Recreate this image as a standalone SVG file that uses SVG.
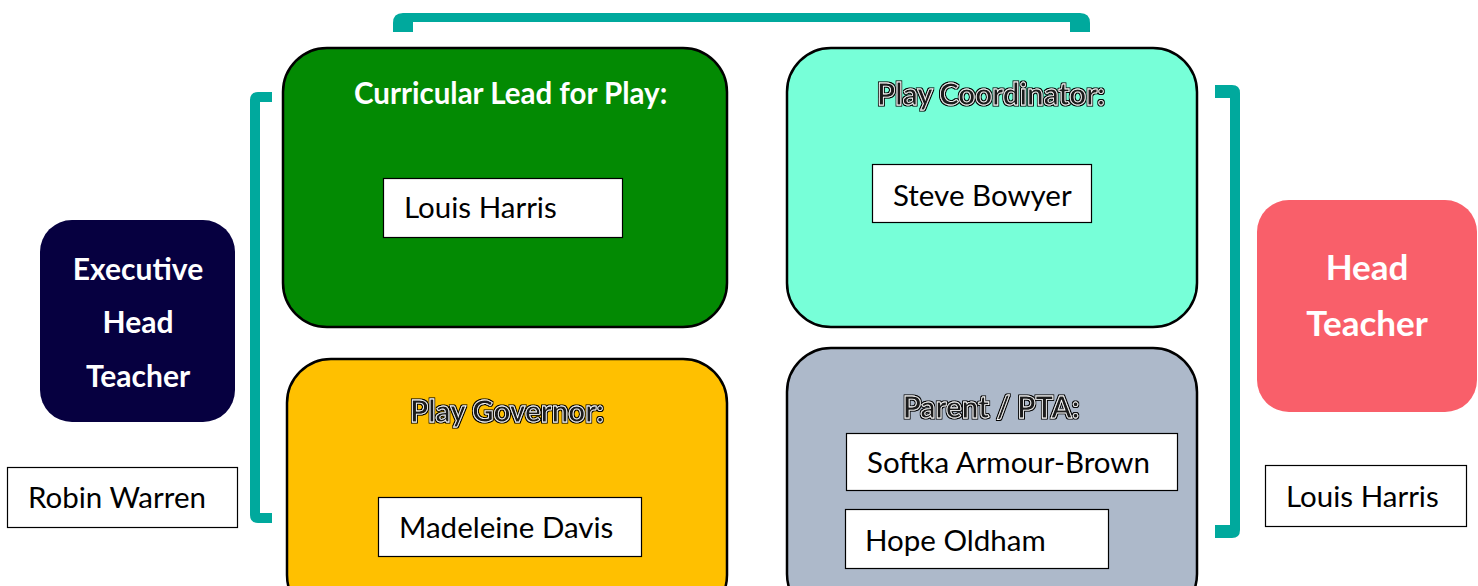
<svg xmlns="http://www.w3.org/2000/svg" width="1478" height="586" viewBox="0 0 1478 586">
<style>
.card{stroke:#000;stroke-width:2.5}
.namebox{fill:#fff;stroke:#000;stroke-width:1.2}
.name{font-family:Lato,"Open Sans",sans-serif;font-size:29.5px;fill:#000}
.hdr{font-family:Lato,"Open Sans",sans-serif;font-size:29.5px;font-weight:bold}
.ol{fill:#1a1a1a;stroke:#fff;stroke-width:0.8;filter:url(#halo)}
.role{font-family:Lato,"Open Sans",sans-serif;font-weight:bold;fill:#fff;text-anchor:middle}
.br{fill:#00A99D}
</style>
<defs>
<filter id="halo" x="-5%" y="-20%" width="110%" height="140%">
<feMorphology in="SourceAlpha" operator="dilate" radius="0.9" result="d"/>
<feFlood flood-color="#000"/>
<feComposite in2="d" operator="in" result="o"/>
<feMerge><feMergeNode in="o"/><feMergeNode in="SourceGraphic"/></feMerge>
</filter>
</defs>
<rect width="1478" height="586" fill="#fff"/>
<g id="connectors">
<path class="br" d="M393 32 V23 Q393 13 403 13 H1080 Q1090 13 1090 23 V32 H1070 V22 H413 V32 Z"/>
<path class="br" d="M272 92 H258 Q250 92 250 100 V515 Q250 523 258 523 H272 V513 H260 V102 H272 Z"/>
<path class="br" d="M1215 85 H1232 Q1240 85 1240 93 V530 Q1240 538 1232 538 H1215 V525 H1230 V98 H1215 Z"/>
</g>
<g id="exec-head">
<rect x="40" y="220" width="195" height="202" rx="32" fill="#060040"/>
<text class="role" font-size="30" x="138" y="280">Executive</text>
<text class="role" font-size="30" x="138" y="333">Head</text>
<text class="role" font-size="30" x="138" y="387">Teacher</text>
</g>
<g id="exec-name">
<rect class="namebox" x="7.5" y="467.5" width="230" height="60"/>
<text class="name" x="28" y="508">Robin Warren</text>
</g>
<g id="head-teacher">
<rect x="1257" y="200" width="220" height="212" rx="32" fill="#F95F6A"/>
<text class="role" font-size="35" x="1367" y="280">Head</text>
<text class="role" font-size="35" x="1367" y="336">Teacher</text>
</g>
<g id="head-name">
<rect class="namebox" x="1265.5" y="465.5" width="201" height="61"/>
<text class="name" x="1286" y="507">Louis Harris</text>
</g>
<g id="curricular-lead">
<rect class="card" x="283" y="48" width="444" height="279" rx="44" fill="#038A03"/>
<text class="hdr" x="354" y="104" fill="#fff">Curricular Lead for Play:</text>
<rect class="namebox" x="383.5" y="178.5" width="239" height="59"/>
<text class="name" x="404" y="218">Louis Harris</text>
</g>
<g id="play-coordinator">
<rect class="card" x="787" y="48" width="410" height="279" rx="44" fill="#77FFD8"/>
<text class="hdr ol" x="991" y="105" text-anchor="middle">Play Coordinator:</text>
<rect class="namebox" x="872.5" y="164.5" width="219" height="58"/>
<text class="name" x="893" y="206">Steve Bowyer</text>
</g>
<g id="play-governor">
<rect class="card" x="287" y="359" width="440" height="260" rx="44" fill="#FFC000"/>
<text class="hdr ol" x="507" y="422" text-anchor="middle">Play Governor:</text>
<rect class="namebox" x="378.5" y="497.5" width="263" height="59"/>
<text class="name" x="399" y="538">Madeleine Davis</text>
</g>
<g id="parent-pta">
<rect class="card" x="787" y="348" width="410" height="270" rx="44" fill="#ADB9CA"/>
<text class="hdr ol" x="991" y="418" text-anchor="middle">Parent / PTA:</text>
<rect class="namebox" x="846.5" y="433.5" width="331" height="57"/>
<text class="name" x="867" y="473">Softka Armour-Brown</text>
<rect class="namebox" x="845.5" y="509.5" width="263" height="59"/>
<text class="name" x="865" y="551">Hope Oldham</text>
</g>
</svg>
